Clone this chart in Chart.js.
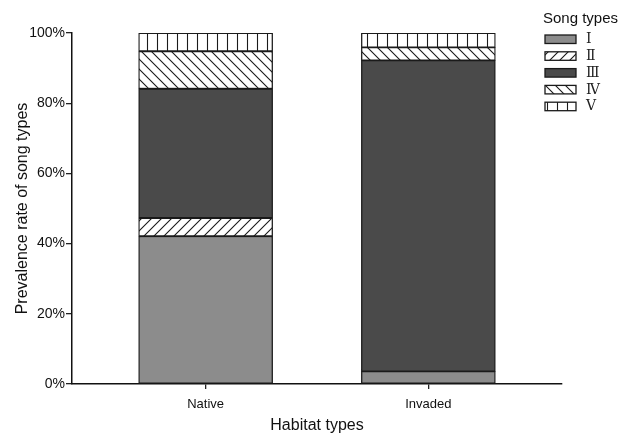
<!DOCTYPE html>
<html>
<head>
<meta charset="utf-8">
<script src="https://cdn.jsdelivr.net/npm/chart.js@4/dist/chart.umd.min.js"></script>
<style>
  html, body { margin: 0; padding: 0; background: #fff; }
  #wrap { width: 629px; height: 435px; }
</style>
</head>
<body>
<div id="wrap"><canvas id="c" width="629" height="435"></canvas></div>
<script>
const categories = ['Native', 'Invaded'];
const seriesNames = ['\u2160', '\u2161', '\u2162', '\u2163', '\u2164'];
const typeI   = [42.1, 3.6];
const typeII  = [5.2, 0];
const typeIII = [36.8, 88.6];
const typeIV  = [10.7, 3.7];
const typeV   = [5.2, 4.1];
const yTicks = [0, 20, 40, 60, 80, 100];

function makePattern(kind) {
  const s = 10;
  const c = document.createElement('canvas');
  c.width = s; c.height = s;
  const g = c.getContext('2d');
  g.fillStyle = '#ffffff';
  g.fillRect(0, 0, s, s);
  g.strokeStyle = '#1a1a1a';
  g.lineWidth = 1.1;
  g.beginPath();
  if (kind === 'fwd') {
    g.moveTo(-1, s + 1); g.lineTo(s + 1, -1);
    g.moveTo(-1, 1); g.lineTo(1, -1);
    g.moveTo(s - 1, s + 1); g.lineTo(s + 1, s - 1);
  } else if (kind === 'back') {
    g.moveTo(-1, -1); g.lineTo(s + 1, s + 1);
    g.moveTo(s - 1, -1); g.lineTo(s + 1, 1);
    g.moveTo(-1, s - 1); g.lineTo(1, s + 1);
  } else {
    g.moveTo(7.5, 0); g.lineTo(7.5, s);
  }
  g.stroke();
  return document.getElementById('c').getContext('2d').createPattern(c, 'repeat');
}

const fills = ['#8c8c8c', makePattern('fwd'), '#4a4a4a', makePattern('back'), makePattern('vert')];
const seriesData = [typeI, typeII, typeIII, typeIV, typeV];

const datasets = seriesNames.map((n, i) => ({
  label: n,
  data: seriesData[i],
  backgroundColor: fills[i],
  borderColor: '#1a1a1a',
  borderWidth: 1.3,
  borderSkipped: false,
  barThickness: 134
}));

const legendPlugin = {
  id: 'customLegend',
  afterDraw(chart) {
    const ctx = chart.ctx;
    ctx.save();
    ctx.fillStyle = '#111';
    ctx.font = '15px "Liberation Sans", Arial, sans-serif';
    ctx.textBaseline = 'alphabetic';
    ctx.textAlign = 'left';
    ctx.fillText('Song types', 543, 23);
    chart.data.datasets.forEach((ds, i) => {
      const y = 35 + i * 16.8;
      ctx.fillStyle = ds.backgroundColor;
      ctx.fillRect(545, y, 31, 8.5);
      ctx.strokeStyle = '#1a1a1a';
      ctx.lineWidth = 1.3;
      ctx.strokeRect(545, y, 31, 8.5);
      ctx.fillStyle = '#222';
      ctx.font = '14px "DejaVu Serif", "Liberation Serif", serif';
      ctx.textBaseline = 'middle';
      ctx.fillText(ds.label, 586, y + 4.5);
    });
    ctx.restore();
  }
};

new Chart(document.getElementById('c'), {
  type: 'bar',
  data: { labels: categories, datasets },
  plugins: [legendPlugin],
  options: {
    responsive: false,
    animation: false,
    layout: { padding: { left: 0, right: 67, top: 33, bottom: 0 } },
    plugins: { legend: { display: false }, tooltip: { enabled: false } },
    scales: {
      x: {
        stacked: true,
        offset: false,
        grid: { offset: false, drawOnChartArea: false, tickLength: 5, color: '#222', lineWidth: 1.3 },
        border: { color: '#111', width: 1.5 },
        ticks: { color: '#111', font: { family: '"Liberation Sans", Arial, sans-serif', size: 13 }, padding: 8 },
        title: { display: true, text: 'Habitat types', color: '#111', font: { family: '"Liberation Sans", Arial, sans-serif', size: 16 }, padding: { top: 0, bottom: 0 } },
        afterBuildTicks(scale) { scale._startValue = -0.6; scale._valueRange = 2.2; },
        afterFit(scale) { scale.height = 51; }
      },
      y: {
        stacked: true,
        min: 0, max: 100,
        afterBuildTicks(scale) { scale.ticks = yTicks.map(v => ({ value: v })); },
        grid: { drawOnChartArea: false, tickLength: 6, color: '#222', lineWidth: 1.3 },
        border: { color: '#111', width: 1.5 },
        ticks: { color: '#111', font: { family: '"Liberation Sans", Arial, sans-serif', size: 14 }, padding: 1, callback: v => v + '%' },
        title: { display: true, text: 'Prevalence rate of song types', color: '#111', font: { family: '"Liberation Sans", Arial, sans-serif', size: 16 }, padding: { top: 13, bottom: 0 } },
        afterFit(scale) { scale.width = 72; }
      }
    }
  }
});
</script>
</body>
</html>
